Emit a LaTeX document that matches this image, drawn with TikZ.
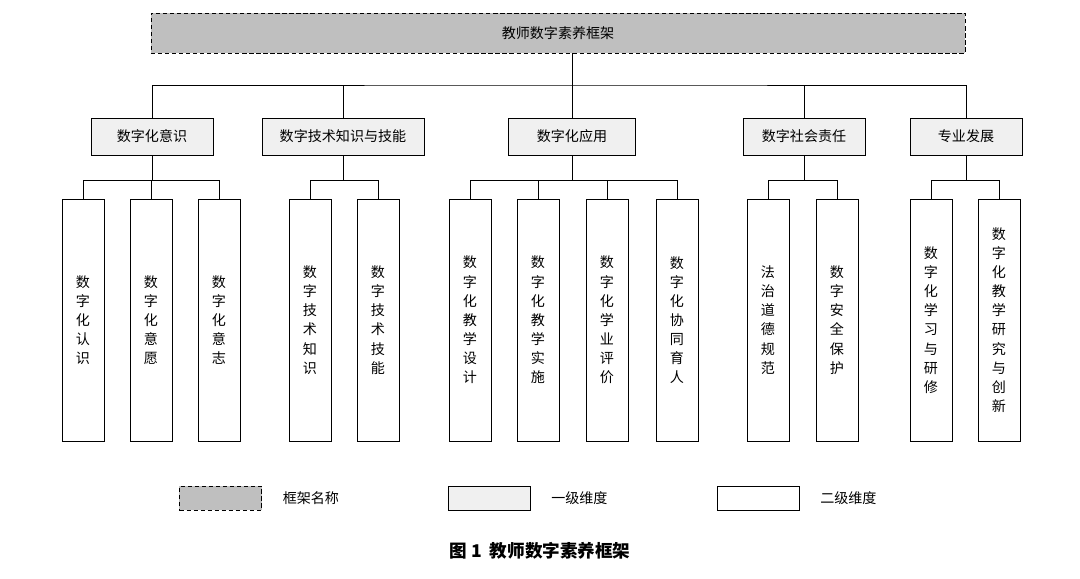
\documentclass[tikz,border=0pt]{standalone}
\usepackage{fontspec}
\setmainfont{Noto Sans CJK SC}
\usetikzlibrary{positioning}
\begin{document}
\begin{tikzpicture}[
    x=0.025cm, y=-0.025cm,
    frame/.style={draw, densely dashed, fill=gray!50, minimum width=20.35cm, minimum height=1cm, font=\fontsize{10}{12}\selectfont},
    dim/.style={draw, fill=gray!12, minimum height=0.92cm, inner xsep=6pt, font=\fontsize{10}{12}\selectfont},
    sub/.style={draw, minimum width=1.05cm, minimum height=6.05cm, align=center, font=\fontsize{10}{13.6}\selectfont},
    key/.style={draw, minimum width=2.05cm, minimum height=0.6cm},
    link/.style={thin}
]
    \useasboundingbox (0,0) rectangle (1080,579);
    % framework
    \node[frame] (top) at (558,33) {教师数字素养框架};

    % first level
    \node[dim, minimum width=3.05cm] (d1) at (152,136.5) {数字化意识};
    \node[dim, minimum width=4.05cm] (d2) at (343,136.5) {数字技术知识与技能};
    \node[dim, minimum width=3.18cm] (d3) at (572,136.5) {数字化应用};
    \node[dim, minimum width=3.05cm] (d4) at (804,136.5) {数字社会责任};
    \node[dim, minimum width=2.8cm] (d5) at (966,136.5) {专业发展};

    % second level
    \node[sub] (s11) at (83,320) {数\\字\\化\\认\\识};
    \node[sub] (s12) at (151,320) {数\\字\\化\\意\\愿};
    \node[sub] (s13) at (219,320) {数\\字\\化\\意\\志};
    \node[sub] (s21) at (310,320) {数\\字\\技\\术\\知\\识};
    \node[sub] (s22) at (378,320) {数\\字\\技\\术\\技\\能};
    \node[sub] (s31) at (470,320) {数\\字\\化\\教\\学\\设\\计};
    \node[sub] (s32) at (538,320) {数\\字\\化\\教\\学\\实\\施};
    \node[sub] (s33) at (607,320) {数\\字\\化\\学\\业\\评\\价};
    \node[sub] (s34) at (677,320) {数\\字\\化\\协\\同\\育\\人};
    \node[sub] (s41) at (768,320) {法\\治\\道\\德\\规\\范};
    \node[sub] (s42) at (837,320) {数\\字\\安\\全\\保\\护};
    \node[sub] (s51) at (931,320) {数\\字\\化\\学\\习\\与\\研\\修};
    \node[sub] (s52) at (999,320) {数\\字\\化\\教\\学\\研\\究\\与\\创\\新};

    % tree lines
    \coordinate (hub) at (572,85);
    \draw[link] (top.south -| hub) -- (hub);
    \draw[link] (d1.north) |- (hub) -| (d5.north);
    \foreach \d in {d2,d3,d4}
        \draw[link] (\d.north) -- (\d.north |- hub);
    \draw[link] (d1.south) -- ++(0,25) coordinate (b1);
    \draw[link] (s11.north) |- (b1) -| (s13.north);
    \draw[link] (s12.north) -- (s12.north |- b1);
    \draw[link] (d2.south) -- ++(0,25) coordinate (b2);
    \draw[link] (s21.north) |- (b2) -| (s22.north);
    \draw[link] (d3.south) -- ++(0,25) coordinate (b3);
    \draw[link] (s31.north) |- (b3) -| (s34.north);
    \foreach \s in {s32,s33}
        \draw[link] (\s.north) -- (\s.north |- b3);
    \draw[link] (d4.south) -- ++(0,25) coordinate (b4);
    \draw[link] (s41.north) |- (b4) -| (s42.north);
    \draw[link] (d5.south) -- ++(0,25) coordinate (b5);
    \draw[link] (s51.north) |- (b5) -| (s52.north);

    % legend
    \node[key, densely dashed, fill=gray!50] (k1) at (220.5,498) {};
    \node[right=0.4cm of k1, font=\fontsize{10}{12}\selectfont] (t1) {框架名称};
    \node[key, fill=gray!12] (k2) at (489,498) {};
    \node[right=0.4cm of k2, font=\fontsize{10}{12}\selectfont] (t2) {一级维度};
    \node[key] (k3) at (758,498) {};
    \node[right=0.4cm of k3, font=\fontsize{10}{12}\selectfont] (t3) {二级维度};

    % caption
    \node[font=\bfseries\fontsize{12.5}{14}\selectfont] (cap) at (540,551) {图 1\ \ 教师数字素养框架};
\end{tikzpicture}
\end{document}
